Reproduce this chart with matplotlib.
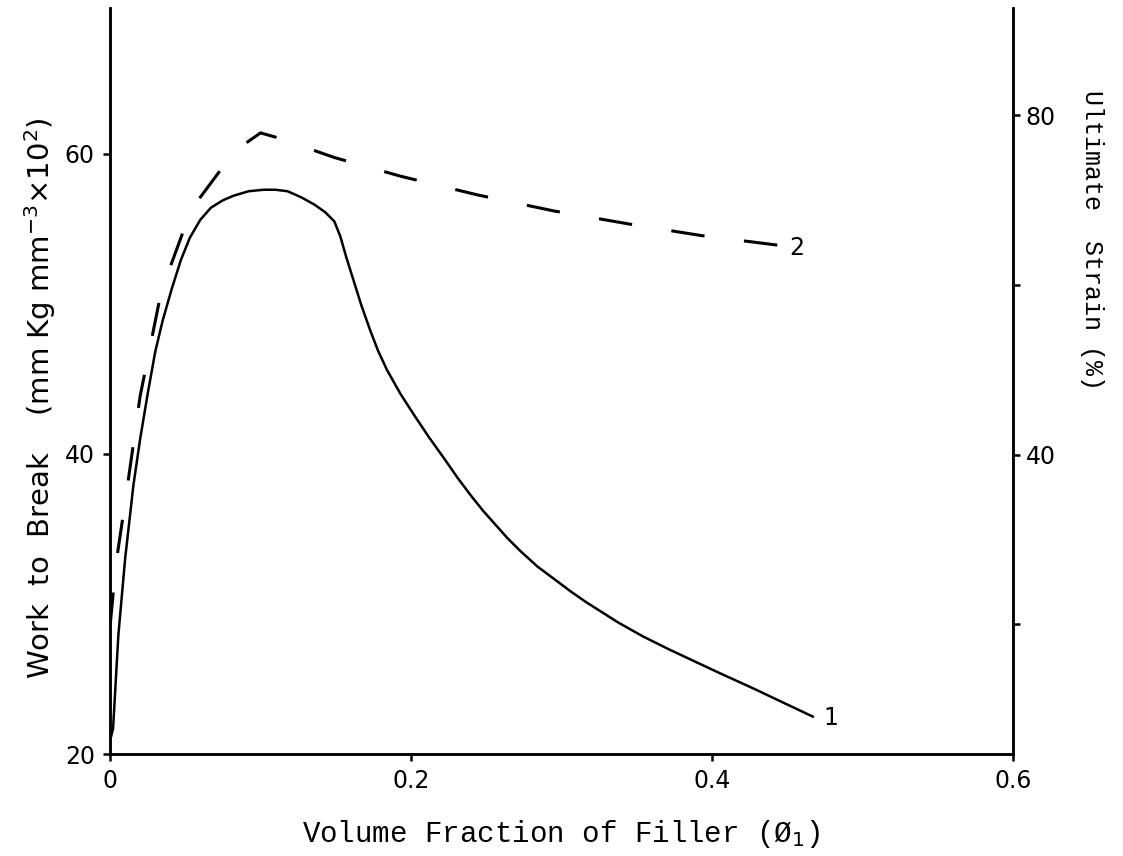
import matplotlib
matplotlib.use("Agg")
import matplotlib.pyplot as plt

# Кривая 1: работа разрушения (левая ось)
phi_work = [0.0, 0.002, 0.0055, 0.010, 0.0155, 0.020, 0.025, 0.030, 0.035, 0.041,
            0.047, 0.053, 0.060, 0.067, 0.075, 0.082, 0.092, 0.102, 0.110, 0.118,
            0.127, 0.136, 0.143, 0.149, 0.153, 0.157, 0.162, 0.167, 0.173, 0.178,
            0.184, 0.193, 0.202, 0.212, 0.222, 0.231, 0.240, 0.248, 0.256, 0.264,
            0.273, 0.284, 0.296, 0.306, 0.316, 0.327, 0.338, 0.354, 0.371, 0.388,
            0.404, 0.416, 0.427, 0.447, 0.467]
work = [20.9, 21.7, 27.9, 33.0, 37.9, 41.0, 44.0, 46.8, 48.9, 51.0,
        52.9, 54.4, 55.6, 56.4, 56.9, 57.2, 57.5, 57.6, 57.6, 57.5,
        57.1, 56.6, 56.1, 55.5, 54.5, 53.1, 51.5, 49.9, 48.2, 46.9,
        45.6, 44.0, 42.6, 41.1, 39.7, 38.4, 37.2, 36.2, 35.3, 34.4,
        33.5, 32.5, 31.6, 30.85, 30.15, 29.45, 28.75, 27.85, 27.0, 26.2,
        25.45, 24.9, 24.4, 23.45, 22.5]

# Кривая 2: предельная деформация (правая ось)
phi_strain = [0.0, 0.004, 0.011, 0.020, 0.034, 0.054, 0.083, 0.100, 0.112, 0.149,
              0.193, 0.244, 0.295, 0.347, 0.393, 0.447]
strain = [19.8, 27.2, 35.6, 46.9, 59.2, 68.9, 75.8, 77.9, 77.3, 75.0,
          72.8, 70.6, 68.7, 67.1, 65.8, 64.6]

x_ticks = [0, 0.2, 0.4, 0.6]
x_labels = ["0", "0.2", "0.4", "0.6"]
left_ticks = [20, 40, 60]
right_ticks = [20, 40, 60, 80]
right_labels = ["", "40", "", "80"]

fig = plt.figure(figsize=(11.23, 8.56), dpi=100)
ax = fig.add_axes([0.098, 0.119, 0.804, 0.8715])
ax2 = ax.twinx()

ax.plot(phi_work, work, color="black", linewidth=1.8)
ax2.plot(phi_strain, strain, color="black", linewidth=2.2, linestyle=(0, (11, 13)))

ax.set_xlim(0, 0.6)
ax.set_ylim(20, 69.7)
ax2.set_ylim(4.7, 92.6)

for a in (ax, ax2):
    a.spines["top"].set_visible(False)
    for s in ("left", "right", "bottom"):
        a.spines[s].set_linewidth(1.8)

ax.set_xticks(x_ticks)
ax.set_xticklabels(x_labels)
ax.set_yticks(left_ticks)
ax.tick_params(axis="both", direction="out", length=5, width=1.8,
               labelsize=17, pad=6)
ax2.set_yticks(right_ticks)
ax2.set_yticklabels(right_labels)
ax2.tick_params(axis="y", direction="out", length=5, width=1.8,
                labelsize=17, pad=4)

ax.set_xlabel("Volume Fraction of Filler (Ø$_1$)", family="Liberation Mono",
              fontsize=21, labelpad=18)

fig.text(0.036, 0.535, r"Work  to  Break    (mm Kg mm$^{-3}$$\times$10$^{2}$)",
         rotation=90, ha="center", va="center", fontsize=21)
fig.text(0.972, 0.72, "Ultimate  Strain (%)", family="Liberation Mono",
         rotation=270, ha="center", va="center", fontsize=18)

# Подписи кривых
ax.text(0.479, 22.4, "1", fontsize=17, ha="center", va="center")
ax.text(0.456, 53.7, "2", fontsize=17, ha="center", va="center")

fig.savefig("out.png", dpi=100)
